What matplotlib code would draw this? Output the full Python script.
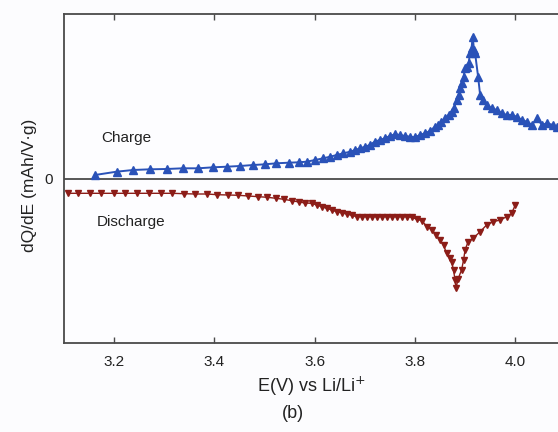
import matplotlib
matplotlib.use("Agg")
import matplotlib.pyplot as plt

plt.rcParams["font.family"] = ["Liberation Sans", "DejaVu Sans"]

# differential capacity, charge branch (V, arbitrary dQ/dE units)
charge_v = [3.162, 3.205, 3.238, 3.272, 3.305, 3.337, 3.368, 3.398, 3.425, 3.451,
            3.478, 3.501, 3.524, 3.548, 3.568, 3.584, 3.601, 3.617, 3.631, 3.644,
            3.657, 3.671, 3.681, 3.691, 3.701, 3.710, 3.720, 3.730, 3.740, 3.750,
            3.760, 3.770, 3.780, 3.790, 3.800, 3.810, 3.820, 3.830, 3.840, 3.847,
            3.853, 3.860, 3.867, 3.873, 3.878, 3.883, 3.887, 3.890, 3.893, 3.897,
            3.900, 3.903, 3.907, 3.910, 3.913, 3.915, 3.918, 3.920, 3.926, 3.930,
            3.935, 3.943, 3.953, 3.963, 3.973, 3.983, 3.993, 4.003, 4.013, 4.023,
            4.033, 4.044, 4.053, 4.063, 4.076, 4.083]
charge_q = [4.0, 7.3, 9.0, 9.7, 10.0, 10.7, 10.7, 11.7, 12.3, 13.0,
            14.0, 14.7, 15.7, 16.3, 16.7, 17.3, 19.0, 20.7, 22.3, 24.0,
            25.7, 27.3, 29.0, 30.7, 32.3, 34.0, 37.3, 39.0, 40.7, 43.0,
            44.7, 44.0, 43.0, 42.3, 41.7, 44.0, 45.7, 48.0, 52.3, 54.0,
            57.3, 60.7, 64.0, 67.3, 70.7, 79.0, 84.0, 90.7, 95.7, 102.3,
            110.7, 112.3, 115.7, 125.7, 130.7, 142.3, 129.0, 125.7, 102.3, 84.0,
            79.0, 74.0, 70.7, 69.0, 65.7, 64.0, 64.0, 62.3, 59.0, 57.3,
            54.0, 60.7, 54.0, 55.7, 54.0, 52.3]

# discharge branch
discharge_v = [3.109, 3.129, 3.152, 3.175, 3.199, 3.222, 3.246, 3.270, 3.293, 3.316,
               3.340, 3.362, 3.385, 3.406, 3.428, 3.448, 3.468, 3.488, 3.506, 3.523,
               3.539, 3.554, 3.569, 3.581, 3.594, 3.604, 3.614, 3.624, 3.634, 3.644,
               3.654, 3.664, 3.674, 3.684, 3.694, 3.704, 3.714, 3.724, 3.734, 3.744,
               3.754, 3.764, 3.774, 3.784, 3.794, 3.804, 3.814, 3.824, 3.834, 3.843,
               3.850, 3.857, 3.863, 3.870, 3.873, 3.877, 3.880, 3.882, 3.886, 3.893,
               3.897, 3.900, 3.906, 3.916, 3.930, 3.943, 3.956, 3.970, 3.983, 3.993,
               4.000]
discharge_q = [-14.3, -14.3, -14.3, -14.3, -14.3, -14.3, -14.3, -14.3, -14.3, -14.3,
               -14.7, -15.0, -15.0, -15.7, -16.0, -16.3, -17.0, -17.7, -18.3, -19.3,
               -20.3, -21.7, -23.0, -24.0, -24.3, -26.0, -27.7, -29.3, -31.0, -32.7,
               -33.7, -35.0, -36.3, -37.7, -37.7, -37.7, -37.7, -37.7, -37.7, -37.7,
               -37.7, -37.7, -37.7, -37.7, -38.3, -40.3, -41.7, -47.7, -51.0, -56.0,
               -61.0, -66.0, -74.3, -79.3, -82.7, -91.0, -101.0, -109.3, -100.0, -91.0,
               -81.0, -71.0, -62.7, -59.3, -52.7, -46.0, -42.7, -41.0, -37.7, -34.3,
               -26.0]

xticks = [3.2, 3.4, 3.6, 3.8, 4.0]
blue = "#2a52b8"
red = "#8c1d18"
spine = "#4a4a4a"

fig = plt.figure(figsize=(5.58, 4.32), dpi=100, facecolor="#fcfcfe")
# axes run off the right edge of the figure, so no right spine is shown
ax = fig.add_axes([64 / 558, 1 - 343 / 432, 1 - 64 / 558, (343 - 14) / 432])
ax.set_facecolor("#fdfdff")

ax.axhline(0, color=spine, lw=1.3, zorder=1)
ax.plot(charge_v, charge_q, color=blue, lw=1.4, marker="^", ms=5.4,
        mec=blue, mfc=blue, zorder=3)
ax.plot(discharge_v, discharge_q, color=red, lw=1.0, marker="v", ms=4.2,
        mec=red, mfc=red, zorder=3)

ax.set_xlim(3.1003, 4.0853)
ax.set_ylim(-164, 165)
ax.set_xticks(xticks)
ax.set_xticklabels([f"{t:.1f}" for t in xticks])
ax.set_yticks([0])
ax.set_yticklabels(["0"])
ax.tick_params(axis="x", direction="in", length=4, width=1, color=spine,
               top=True, labelsize=11, pad=9, labelcolor="#222222")
ax.tick_params(axis="y", length=0, labelsize=11, pad=8, labelcolor="#222222")
for side in ("left", "top", "bottom"):
    ax.spines[side].set_color(spine)
    ax.spines[side].set_linewidth(1.3)
ax.spines["right"].set_visible(False)

ax.set_xlabel("E(V) vs Li/Li$^{+}$", fontsize=13, color="#222222", labelpad=4)
ax.set_ylabel("dQ/dE (mAh/V\u00b7g)", fontsize=12.5, color="#222222")
ax.yaxis.set_label_coords(-0.055, 0.48)

ax.text(3.175, 41, "Charge", fontsize=11, color="#222222", ha="left", va="center")
ax.text(3.165, -43, "Discharge", fontsize=11, color="#222222", ha="left", va="center")

fig.text(293 / 558, 1 - 414 / 432, "(b)", fontsize=13, color="#222222",
         ha="center", va="center")

fig.savefig("out.png", dpi=100, facecolor=fig.get_facecolor())
